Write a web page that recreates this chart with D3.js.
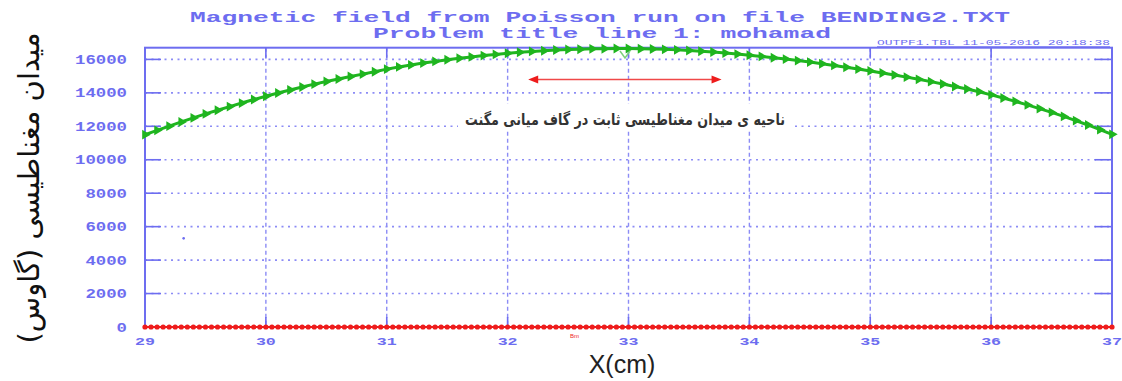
<!DOCTYPE html>
<html><head><meta charset="utf-8">
<script src="https://cdn.jsdelivr.net/npm/d3@7"></script>
<style>html,body{margin:0;padding:0;background:#fff;}svg{display:block;}</style>
</head><body>
<svg id="c" width="1122" height="381"></svg>
<script>
// ---- data ----
const titleLines = ["Magnetic field from Poisson run on file BENDING2.TXT", "Problem title line 1: mohamad"];
const headerInfo = "OUTPF1.TBL    11-05-2016    20:18:38";
const xTicks = [29, 30, 31, 32, 33, 34, 35, 36, 37];
const yTicks = [0, 2000, 4000, 6000, 8000, 10000, 12000, 14000, 16000];
const xLabel = "X(cm)";
const yLabel = "میدان مغناطیسی (گاوس)";
const noteText = "ناحیه ی میدان مغناطیسی ثابت در گاف میانی مگنت";
// green series: B (Gauss) at x = 29.0 .. 37.0, step 0.1
const xGreenStart = 29, xGreenStep = 0.1;
const bGreen = [11500,11760,12010,12260,12500,12740,12960,13180,13390,13600,
 13800,13990,14170,14350,14520,14680,14830,14980,15120,15260,
 15420,15550,15670,15780,15880,15980,16070,16150,16230,16300,
 16370,16430,16480,16520,16560,16590,16610,16630,16640,16650,
 16650,16640,16620,16600,16570,16530,16490,16440,16380,16320,
 16250,16180,16100,16020,15930,15840,15740,15640,15530,15420,
 15310,15190,15070,14940,14810,14670,14530,14380,14230,14070,
 13880,13690,13490,13280,13060,12830,12590,12340,12080,11800,11520];
// red series: B at x = 29.0 .. 37.0, step 0.05
const xRedStart = 29, xRedStep = 0.05;
const bRed = [0,0,0,0,0,0,0,0,0,0,0,0,0,0,0,0,0,0,0,0,
 0,0,0,0,0,0,0,0,0,0,0,0,0,0,0,0,0,0,0,0,
 0,0,0,0,0,0,0,0,0,0,0,0,0,0,0,0,0,0,0,0,
 0,0,0,0,0,0,0,0,0,0,0,0,0,0,0,0,0,0,0,0,
 0,0,0,0,0,0,0,0,0,0,0,0,0,0,0,0,0,0,0,0,
 0,0,0,0,0,0,0,0,0,0,0,0,0,0,0,0,0,0,0,0,
 0,0,0,0,0,0,0,0,0,0,0,0,0,0,0,0,0,0,0,0,
 0,0,0,0,0,0,0,0,0,0,0,0,0,0,0,0,0,0,0,0,0];
const strayPoint = [29.32, 5300];
const arrowRange = [32.17, 33.77], arrowY = 14800;

// ---- drawing ----
const svg = d3.select("#c");
const L = 145, R = 1112, T = 47.7, B = 327;
const x = d3.scaleLinear().domain([29, 37]).range([L, R]);
const y = d3.scaleLinear().domain([0, 16700]).range([B, T]);
const blue = "#6d6df0", grid = "#8c8cf5";

// titles
svg.append("text").attr("x", 190).attr("y", 22).attr("textLength", 820).attr("lengthAdjust", "spacingAndGlyphs")
  .attr("font-family", "Liberation Mono").attr("font-size", 14).attr("font-weight", "bold").attr("fill", blue).text(titleLines[0]);
svg.append("text").attr("x", 373).attr("y", 38).attr("textLength", 458).attr("lengthAdjust", "spacingAndGlyphs")
  .attr("font-family", "Liberation Mono").attr("font-size", 14).attr("font-weight", "bold").attr("fill", blue).text(titleLines[1]);
svg.append("text").attr("x", 877).attr("y", 45).attr("textLength", 233).attr("lengthAdjust", "spacingAndGlyphs")
  .attr("font-family", "Liberation Mono").attr("font-size", 7).attr("fill", blue).attr("text-decoration", "underline").text(headerInfo);

// grid
const g = svg.append("g");
g.selectAll(".hg").data(yTicks.filter(d => d > 0)).join("line")
  .attr("x1", L).attr("x2", R).attr("y1", d => y(d)).attr("y2", d => y(d))
  .attr("stroke", grid).attr("stroke-width", 1.6).attr("stroke-dasharray", "2,4.5");
g.selectAll(".vg").data(xTicks.slice(1, -1)).join("line")
  .attr("x1", d => x(d)).attr("x2", d => x(d)).attr("y1", T).attr("y2", B)
  .attr("stroke", grid).attr("stroke-width", 1.4).attr("stroke-dasharray", "4,3");

// ticks (inward, solid)
g.selectAll(".lt").data(yTicks).join("line").attr("x1", L).attr("x2", L + 16).attr("y1", d => y(d)).attr("y2", d => y(d)).attr("stroke", blue).attr("stroke-width", 1.6);
g.selectAll(".rt").data(yTicks).join("line").attr("x1", R - 17).attr("x2", R).attr("y1", d => y(d)).attr("y2", d => y(d)).attr("stroke", blue).attr("stroke-width", 1.6);
g.selectAll(".tt").data(xTicks).join("line").attr("x1", d => x(d)).attr("x2", d => x(d)).attr("y1", T).attr("y2", T + 10).attr("stroke", blue).attr("stroke-width", 1.6);
g.selectAll(".bt").data(xTicks).join("line").attr("x1", d => x(d)).attr("x2", d => x(d)).attr("y1", B - 10).attr("y2", B).attr("stroke", blue).attr("stroke-width", 1.6);

// frame
svg.append("rect").attr("x", L).attr("y", T).attr("width", R - L).attr("height", B - T)
  .attr("fill", "none").attr("stroke", blue).attr("stroke-width", 2);

// tick labels
svg.selectAll(".yl").data(yTicks).join("text")
  .attr("x", 127).attr("y", d => y(d) + 4.5).attr("text-anchor", "end")
  .attr("font-family", "Liberation Mono").attr("font-weight", "bold").attr("font-size", 12.5).attr("fill", blue)
  .attr("textLength", d => String(d).length * 10.4).attr("lengthAdjust", "spacingAndGlyphs")
  .text(d => d);
svg.selectAll(".xl").data(xTicks).join("text")
  .attr("x", d => x(d) - 10).attr("y", 344.5)
  .attr("font-family", "Liberation Mono").attr("font-weight", "bold").attr("font-size", 11.5).attr("fill", blue)
  .attr("textLength", 20).attr("lengthAdjust", "spacingAndGlyphs")
  .text(d => d);

// red series
const redData = bRed.map((v, i) => [xRedStart + i * xRedStep, v]);
svg.append("path").datum(redData).attr("fill", "none").attr("stroke", "#ee1c1c").attr("stroke-width", 2)
  .attr("d", d3.line().x(d => x(d[0])).y(d => y(d[1])));
svg.selectAll(".rd").data(redData).join("circle").attr("cx", d => x(d[0])).attr("cy", d => y(d[1])).attr("r", 2.6).attr("fill", "#ee1c1c");

// green series
const greenData = bGreen.map((v, i) => [xGreenStart + i * xGreenStep, v]);
svg.append("path").datum(greenData).attr("fill", "none").attr("stroke", "#1fb51f").attr("stroke-width", 3)
  .attr("d", d3.line().x(d => x(d[0])).y(d => y(d[1])));
const tri = d3.symbol().type(d3.symbolTriangle).size(42);
svg.selectAll(".gt").data(greenData).join("path")
  .attr("d", tri).attr("transform", d => `translate(${x(d[0])},${y(d[1])}) rotate(90)`).attr("fill", "#1fb51f");

// stray point and small markers
svg.append("circle").attr("cx", x(strayPoint[0])).attr("cy", y(strayPoint[1])).attr("r", 1.3).attr("fill", blue);
svg.append("text").attr("x", 570).attr("y", 338).attr("font-family", "Liberation Sans").attr("font-size", 6).attr("fill", "#ee1c1c").text("Bm");
svg.append("path").attr("d", "M620,51 L625,58 L630,51").attr("fill", "none").attr("stroke", "#7ccf7c").attr("stroke-width", 1.5);

// annotation arrow
const ax1 = x(arrowRange[0]), ax2 = x(arrowRange[1]), ay = y(arrowY);
svg.append("line").attr("x1", ax1 + 6).attr("x2", ax2 - 6).attr("y1", ay).attr("y2", ay).attr("stroke", "#f04848").attr("stroke-width", 1.6);
svg.append("path").attr("d", `M${ax1},${ay} L${ax1 + 10},${ay - 4} L${ax1 + 10},${ay + 4} Z`).attr("fill", "#ee1c1c");
svg.append("path").attr("d", `M${ax2},${ay} L${ax2 - 10},${ay - 4} L${ax2 - 10},${ay + 4} Z`).attr("fill", "#ee1c1c");
svg.append("rect").attr("x", 458).attr("y", 104).attr("width", 334).attr("height", 26).attr("fill", "#fff");
svg.append("text").attr("x", 625).attr("y", 125).attr("text-anchor", "middle").attr("direction", "rtl")
  .attr("font-family", "DejaVu Sans").attr("font-weight", "bold").attr("font-size", 16).attr("fill", "#333")
  .attr("textLength", 320).attr("lengthAdjust", "spacingAndGlyphs").text(noteText);

// axis labels
svg.append("text").attr("transform", "translate(39,188) rotate(-90)").attr("text-anchor", "middle").attr("direction", "rtl")
  .attr("font-family", "DejaVu Sans").attr("font-size", 29).attr("fill", "#111").text(yLabel);
svg.append("text").attr("x", 622).attr("y", 373).attr("text-anchor", "middle")
  .attr("font-family", "Liberation Sans").attr("font-size", 25).attr("fill", "#222").text(xLabel);
</script>
</body></html>
